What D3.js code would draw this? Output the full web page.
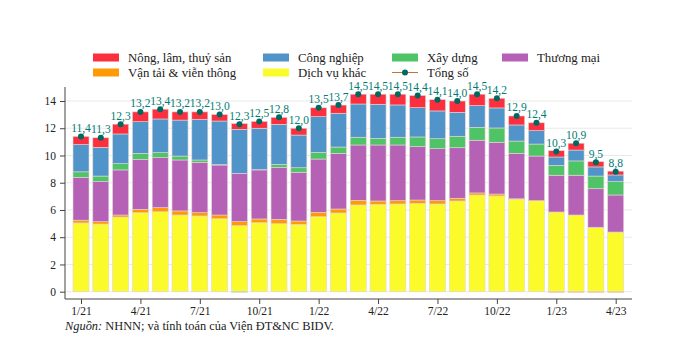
<!DOCTYPE html>
<html><head><meta charset="utf-8">
<script src="https://cdn.jsdelivr.net/npm/d3@7"></script>
<style>body{margin:0;background:#fff}svg{display:block;font-family:"Liberation Serif","Times New Roman",serif}</style>
</head><body><svg id="c" width="686" height="349"></svg>
<script>
const months = ["1/21","2/21","3/21","4/21","5/21","6/21","7/21","8/21","9/21","10/21","11/21","12/21",
  "1/22","2/22","3/22","4/22","5/22","6/22","7/22","8/22","9/22","10/22","11/22","12/22",
  "1/23","2/23","3/23","4/23"];
const tickLabels = ["1/21","4/21","7/21","10/21","1/22","4/22","7/22","10/22","1/23","4/23"];
const dichVuKhac = [5.05,4.97,5.48,5.80,5.87,5.63,5.56,5.36,4.85,5.07,4.99,4.95,5.51,5.78,6.37,6.42,6.44,6.49,6.44,6.66,7.10,7.03,6.80,6.68,5.85,5.63,4.73,4.38];
const vanTai     = [0.20,0.17,0.15,0.25,0.30,0.30,0.24,0.27,0.29,0.27,0.32,0.24,0.32,0.29,0.34,0.24,0.24,0.24,0.24,0.20,0.15,0.14,0.02,0.00,-0.05,-0.05,-0.05,-0.05];
const thuongMai  = [3.15,2.94,3.31,3.67,3.67,3.74,3.70,3.67,3.55,3.60,3.82,3.58,3.91,4.09,4.06,4.11,4.09,3.92,3.82,3.71,3.87,3.80,3.34,3.28,2.70,2.92,2.83,2.72];
const xayDung    = [0.40,0.41,0.46,0.44,0.37,0.29,0.17,0.03,-0.04,0.02,0.22,0.33,0.49,0.46,0.57,0.49,0.57,0.71,0.73,0.84,0.95,1.05,0.90,0.88,0.73,1.05,0.93,0.98];
const congNghiep = [2.00,2.11,2.18,2.32,2.47,2.64,2.99,3.20,3.23,3.04,2.94,2.40,2.62,2.48,2.44,2.50,2.37,2.15,2.04,1.76,1.59,1.47,1.18,0.98,0.61,0.80,0.67,0.49];
const nongLam    = [0.60,0.70,0.72,0.72,0.72,0.60,0.54,0.47,0.42,0.50,0.51,0.50,0.65,0.60,0.72,0.74,0.79,0.89,0.83,0.83,0.84,0.71,0.66,0.58,0.46,0.50,0.39,0.28];
const tongSo     = [11.4,11.3,12.3,13.2,13.4,13.2,13.2,13.0,12.3,12.5,12.8,12.0,13.5,13.7,14.5,14.5,14.5,14.4,14.1,14.0,14.5,14.2,12.9,12.4,10.3,10.9,9.5,8.8];
const yTicks = [0,2,4,6,8,10,12,14];

const seriesNames = ["Dịch vụ khác","Vận tải & viễn thông","Thương mại","Xây dựng","Công nghiệp","Nông, lâm, thuỷ sản"];
const seriesData = [dichVuKhac, vanTai, thuongMai, xayDung, congNghiep, nongLam];
const colors = ["#fbfb2c","#ff9a05","#b562b6","#4fc466","#5094c9","#fc2f3f"];
const dotColor = "#00695f", labelColor = "#007b73";

const rows = months.map((m,i)=>{const o={m}; seriesNames.forEach((s,k)=>o[s]=seriesData[k][i]); return o;});
const stack = d3.stack().keys(seriesNames).offset(d3.stackOffsetDiverging)(rows);

const svg = d3.select("#c");
const x = d3.scalePoint().domain(months).range([81,615.7]);
const y = d3.scaleLinear().domain([0,14]).range([291.7,101]);
const bw = 16;

// gridlines
svg.append("g").selectAll("line").data(yTicks).join("line")
  .attr("x1",65).attr("x2",632).attr("y1",d=>y(d)).attr("y2",d=>y(d))
  .attr("stroke","#e9e9e9").attr("stroke-width",1);

// bars
stack.forEach((layer,k)=>{
  svg.append("g").selectAll("rect").data(layer).join("rect")
    .attr("x",d=>x(d.data.m)-bw/2).attr("width",bw)
    .attr("y",d=>y(Math.max(d[0],d[1]))).attr("height",d=>Math.abs(y(d[0])-y(d[1])))
    .attr("fill",colors[k]).attr("stroke","#e2d6d6").attr("stroke-width",0.6);
});

// total dots and labels
svg.append("g").selectAll("circle").data(tongSo).join("circle")
  .attr("cx",(d,i)=>x(months[i])).attr("cy",d=>y(d)).attr("r",3).attr("fill",dotColor);
svg.append("g").selectAll("text").data(tongSo).join("text")
  .attr("x",(d,i)=>x(months[i])).attr("y",d=>y(d)-4.5).attr("text-anchor","middle")
  .attr("font-size",11.5).attr("fill",labelColor)
  .text(d=>d.toFixed(1).replace(".",","));

// y axis
const ya = svg.append("g").attr("transform","translate(65,0)")
  .call(d3.axisLeft(y).tickValues(yTicks).tickSize(5).tickPadding(4));
ya.select(".domain").attr("d","M0,87V299").attr("stroke","#444");
ya.selectAll(".tick line").attr("stroke","#444");
ya.selectAll("text").attr("font-size",11.5).attr("font-family","Liberation Serif").attr("fill","#222");

// x axis
const xa = svg.append("g").attr("transform","translate(0,299)")
  .call(d3.axisBottom(x).tickValues(tickLabels).tickSize(5).tickPadding(3));
xa.select(".domain").attr("d","M65,0H632").attr("stroke","#444");
xa.selectAll(".tick line").attr("stroke","#444");
xa.selectAll("text").attr("font-size",11.5).attr("font-family","Liberation Serif").attr("fill","#222");

// legend
const leg = [
  {name:"Nông, lâm, thuỷ sản", c:colors[5], x:93, y:53.5},
  {name:"Công nghiệp", c:colors[4], x:263, y:53.5},
  {name:"Xây dựng", c:colors[3], x:392, y:53.5},
  {name:"Thương mại", c:colors[2], x:502, y:53.5},
  {name:"Vận tải & viễn thông", c:colors[1], x:93, y:68.5},
  {name:"Dịch vụ khác", c:colors[0], x:263, y:68.5}
];
const lg = svg.append("g");
leg.forEach(l=>{
  lg.append("rect").attr("x",l.x).attr("y",l.y).attr("width",26).attr("height",8).attr("fill",l.c);
  lg.append("text").attr("x",l.x+35).attr("y",l.y+8).attr("font-size",12.8).attr("fill","#222").text(l.name);
});
lg.append("line").attr("x1",392).attr("x2",418).attr("y1",72.5).attr("y2",72.5).attr("stroke","#c8733a").attr("stroke-width",1);
lg.append("circle").attr("cx",405).attr("cy",72.5).attr("r",3).attr("fill",dotColor);
lg.append("text").attr("x",427).attr("y",76.5).attr("font-size",12.8).attr("fill","#222").text("Tổng số");

// source
const src = svg.append("text").attr("x",65).attr("y",330).attr("font-size",12.4).attr("fill","#222");
src.append("tspan").attr("font-style","italic").text("Nguồn:");
src.append("tspan").text(" NHNN; và tính toán của Viện ĐT&NC BIDV.");
</script></body></html>
